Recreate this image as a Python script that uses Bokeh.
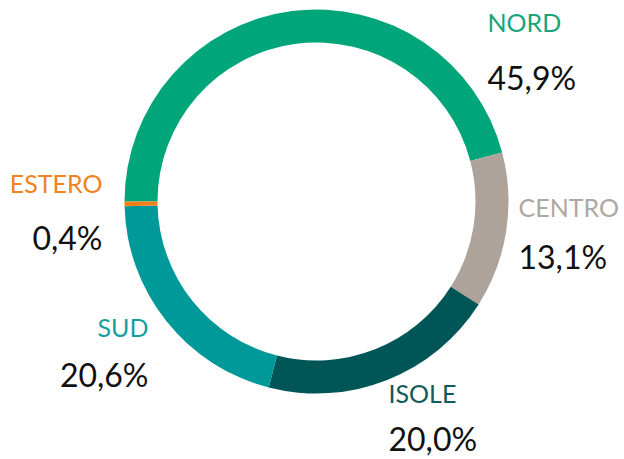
import math
from bokeh.plotting import figure
from bokeh.models import Range1d, ColumnDataSource
from bokeh.core.properties import value
from bokeh.embed import file_html
from bokeh.resources import INLINE

# Data
regions = ["NORD", "CENTRO", "ISOLE", "SUD", "ESTERO"]
shares = [45.9, 13.1, 20.0, 20.6, 0.4]
colors = ["#00A679", "#ADA39A", "#005657", "#00999A", "#F07F19"]
label_colors = ["#17A47B", "#B0A79E", "#115B5B", "#179FA0", "#F0821F"]

# Layout (pixel coords of the picture, converted to data via H - y)
W, H = 624, 459
cx, cy = 316, 201
r_out, r_in = 192, 159
lab_x = [487, 518, 388, 148, 102]
lab_align = ["left", "left", "left", "right", "right"]
lab_base = [21, 206, 392, 326, 182]
val_base = [77, 256, 438, 374, 237]

total = sum(shares)
starts, ends = [], []
cum = 0.0
for s in shares:
    starts.append(math.pi - 2 * math.pi * cum / total)
    cum += s
    ends.append(math.pi - 2 * math.pi * cum / total)

p = figure(width=W, height=H, output_backend="svg", toolbar_location=None,
           x_range=Range1d(0, W), y_range=Range1d(0, H),
           min_border=0)
p.axis.visible = False
p.grid.visible = False
p.outline_line_color = None
p.background_fill_color = "white"

src = ColumnDataSource(dict(
    x=[cx] * len(shares), y=[H - cy] * len(shares),
    start=starts, end=ends, color=colors))
p.annular_wedge(x="x", y="y", inner_radius=r_in, outer_radius=r_out,
                start_angle="start", end_angle="end", direction="clock",
                fill_color="color", line_color=None, source=src)

for i, name in enumerate(regions):
    p.text(x=[lab_x[i]], y=[H - lab_base[i]], text=[name],
           text_font=value("Lato"), text_font_size="25px",
           text_color=label_colors[i], text_align=lab_align[i],
           text_baseline="alphabetic")
    vtxt = f"{shares[i]:.1f}".replace(".", ",") + "%"
    p.text(x=[lab_x[i]], y=[H - val_base[i]], text=[vtxt],
           text_font=value("Lato"), text_font_size="32px",
           text_color="#111111", text_align=lab_align[i],
           text_baseline="alphabetic")

open("out.html", "w").write(file_html(p, INLINE))
